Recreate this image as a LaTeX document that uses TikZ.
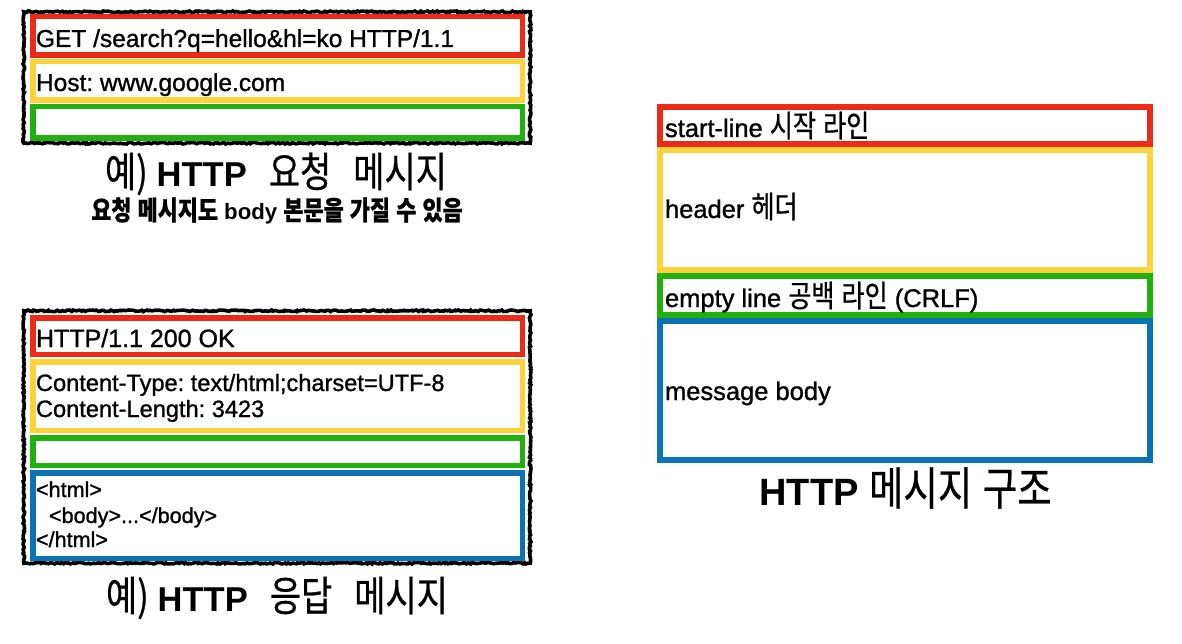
\documentclass[tikz,border=0pt]{standalone}
\usepackage{fontspec}
\setmainfont{Liberation Sans}[UprightFeatures={FakeBold=1.1}]
\newfontfamily\krfont{Noto Sans CJK KR}[Scale=1.2,FakeStretch=0.82,FakeBold=0.6]
\newcommand\K[1]{{\krfont #1}}
\usetikzlibrary{decorations.pathmorphing}
\definecolor{boxred}{HTML}{EC2A18}
\definecolor{boxyellow}{HTML}{FDD33A}
\definecolor{boxgreen}{HTML}{22B00E}
\definecolor{boxblue}{HTML}{0C72B6}
% name, style, colour, line width, outer x1, y1, x2, y2
\newcommand\mkbox[8]{%
  \node[#2, draw=#3, line width=#4pt,
        minimum width={(#7-#5-#4)*1pt}, minimum height={(#8-#6-#4)*1pt}]
        (#1) at ({(#5+#7)/2},{(#6+#8)/2}) {};}
\frenchspacing
\begin{document}
\frenchspacing
\begin{tikzpicture}[x=1pt,y=-1pt,
  cbox/.style={rectangle, inner sep=0pt, outer sep=0pt},
  rough/.style={rectangle, inner sep=0pt, outer sep=0pt, decorate,
    decoration={random steps, segment length=1.8pt, amplitude=0.8pt}},
  txt/.style={anchor=base west, inner sep=0pt, outer sep=0pt},
  ttl/.style={anchor=base, inner sep=0pt, outer sep=0pt},
  linetext/.style={txt, font=\frenchspacing\fontsize{24.5}{24.5}\selectfont},
  hdrtext/.style={txt, font=\frenchspacing\fontsize{23.6}{23.6}\selectfont},
  htmltext/.style={txt, font=\frenchspacing\fontsize{21.6}{21.6}\selectfont},
  structtext/.style={txt, font=\fontsize{25.5}{25.5}\selectfont},
  bigtitle/.style={ttl, font=\fontsize{34.5}{34.5}\selectfont},
  note/.style={ttl, font=\bfseries\fontsize{22.2}{22.2}\selectfont}]
\useasboundingbox (0,0) rectangle (1182,644);
\fill[white] (0,0) rectangle (1182,644);
\pgfmathsetseed{7}

% ---------- request example ----------
\mkbox{reqframe}{rough}{black}{3.6}{22}{10}{532}{145}
\mkbox{reqstart}{cbox}{boxred}{5.5}{30}{14}{525}{58}
\mkbox{reqheader}{cbox}{boxyellow}{5.5}{30}{59}{525}{103}
\mkbox{reqempty}{cbox}{boxgreen}{5.5}{30}{104}{525}{141}
\node[linetext] (getline) at (36,47) {GET /search?q=hello\&hl=ko HTTP/1.1};
\node[linetext] (hostline) at (36,91) {Host: www.google.com};
\node[bigtitle] (reqtitle) at (276,187)
  {\K{예)}\hspace{9pt}\textbf{HTTP}\hspace{22pt}\K{요청}\hspace{22pt}\K{메시지}};
\node[note] (reqnote) at (277,220)
  {\K{요청} \K{메시지도} body \K{본문을} \K{가질} \K{수} \K{있음}};

% ---------- response example ----------
\mkbox{resframe}{rough}{black}{3.6}{22}{309}{532}{565}
\mkbox{resstart}{cbox}{boxred}{5.5}{30}{315}{525}{357}
\mkbox{resheader}{cbox}{boxyellow}{5.5}{30}{359}{525}{433}
\mkbox{resempty}{cbox}{boxgreen}{5.5}{30}{435}{525}{468}
\mkbox{resbody}{cbox}{boxblue}{5.5}{30}{470}{525}{561}
\node[txt, font=\fontsize{25}{25}\selectfont] (statusline) at (36,347) {HTTP/1.1 200 OK};
\node[hdrtext] (ctype) at (36,391) {Content-Type: text/html;charset=UTF-8};
\node[hdrtext] (clen) at (36,417) {Content-Length: 3423};
\node[htmltext] (htmlopen) at (36,497) {<html>};
\node[htmltext] (bodytag) at (49,523) {<body>...</body>};
\node[htmltext] (htmlclose) at (36,547) {</html>};
\node[bigtitle] (restitle) at (277,611)
  {\K{예)}\hspace{9pt}\textbf{HTTP}\hspace{22pt}\K{응답}\hspace{22pt}\K{메시지}};

% ---------- message structure ----------
\mkbox{startbox}{cbox}{boxred}{6}{657}{104}{1153}{147}
\mkbox{headerbox}{cbox}{boxyellow}{6}{657}{147}{1153}{273}
\mkbox{emptybox}{cbox}{boxgreen}{6}{657}{273}{1153}{318}
\mkbox{bodybox}{cbox}{boxblue}{6}{657}{318}{1153}{463}
\node[structtext] (startline) at (665,137) {start-line \K{시작} \K{라인}};
\node[structtext] (headerline) at (665,218) {header \K{헤더}};
\node[structtext] (emptyline) at (665,307) {empty line \K{공백} \K{라인} (CRLF)};
\node[structtext] (bodyline) at (665,400) {message body};
\node[ttl, font=\fontsize{38}{38}\selectfont] (structtitle) at (905.5,505)
  {\textbf{HTTP} \K{메시지} \K{구조}};
\end{tikzpicture}
\end{document}
